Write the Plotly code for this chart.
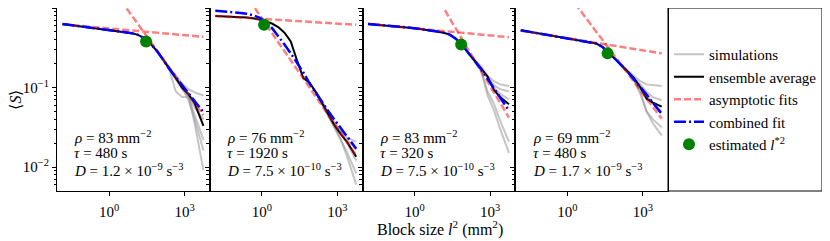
import plotly.graph_objects as go

# ---------------- data ----------------
# block sizes l^2 (mm^2)
L2 = [0.0141, 0.0251, 0.0447, 0.0794, 0.141, 0.251, 0.447, 0.794, 1.41, 2.51, 4.47, 7.94,
      14.1, 25.1, 44.7, 79.4, 141, 251, 447, 794, 1413, 2512, 5623]
# block sizes where the individual simulations separate
L2_TAIL = [141, 251, 447, 794, 1413, 2512, 5623]

# log10 <S> of the ensemble average, one list per panel
ENS_1 = [-0.200, -0.211, -0.222, -0.233, -0.244, -0.255, -0.265, -0.276, -0.284, -0.292, -0.302, -0.316,
         -0.338, -0.380, -0.45, -0.54, -0.65, -0.76, -0.88, -1.00, -1.08, -1.20, -1.48]
ENS_2 = [-0.100, -0.103, -0.106, -0.110, -0.114, -0.120, -0.130, -0.145, -0.165, -0.195, -0.24, -0.31,
         -0.42, -0.66, -0.88, -0.94, -1.06, -1.20, -1.34, -1.48, -1.59, -1.69, -1.87]
ENS_3 = [-0.200, -0.206, -0.212, -0.219, -0.226, -0.233, -0.241, -0.250, -0.262, -0.272, -0.283, -0.296,
         -0.312, -0.335, -0.39, -0.47, -0.57, -0.67, -0.77, -0.86, -1.03, -1.12, -1.21]
ENS_4 = [-0.280, -0.294, -0.308, -0.322, -0.336, -0.350, -0.364, -0.378, -0.392, -0.404, -0.415, -0.428,
         -0.447, -0.49, -0.56, -0.64, -0.72, -0.80, -0.88, -1.00, -1.14, -1.19, -1.24]

# log10 <S> of the combined fit
FIT_1 = [-0.200, -0.211, -0.222, -0.233, -0.244, -0.255, -0.265, -0.276, -0.284, -0.292, -0.302, -0.316,
         -0.338, -0.380, -0.45, -0.54, -0.65, -0.77, -0.87, -0.97, -1.07, -1.17, -1.31]
FIT_2 = [-0.035, -0.040, -0.046, -0.053, -0.062, -0.073, -0.090, -0.12, -0.17, -0.25, -0.35, -0.46,
         -0.57, -0.69, -0.81, -0.95, -1.07, -1.18, -1.30, -1.41, -1.51, -1.62, -1.77]
FIT_3 = [-0.200, -0.206, -0.212, -0.219, -0.226, -0.233, -0.241, -0.250, -0.262, -0.272, -0.283, -0.296,
         -0.312, -0.335, -0.39, -0.47, -0.57, -0.67, -0.77, -0.89, -1.01, -1.13, -1.29]
FIT_4 = [-0.280, -0.294, -0.308, -0.322, -0.336, -0.350, -0.364, -0.378, -0.392, -0.404, -0.415, -0.428,
         -0.447, -0.49, -0.56, -0.64, -0.72, -0.80, -0.90, -0.99, -1.09, -1.19, -1.33]

# log10 <S> of the five simulations over L2_TAIL
SIMS_1 = [[-0.65, -0.75, -0.85, -0.95, -1.02, -1.06, -1.10],
          [-0.65, -0.78, -1.05, -1.12, -1.12, -1.25, -1.40],
          [-0.66, -0.77, -0.90, -1.02, -1.12, -1.35, -1.66],
          [-0.65, -0.76, -0.88, -1.00, -1.15, -1.40, -1.79],
          [-0.64, -0.75, -0.87, -0.98, -1.10, -1.45, -2.04]]
SIMS_2 = [[-1.06, -1.19, -1.32, -1.44, -1.55, -1.63, -1.68],
          [-1.05, -1.21, -1.35, -1.50, -1.60, -1.66, -1.78],
          [-1.07, -1.20, -1.36, -1.52, -1.66, -1.82, -2.08],
          [-1.06, -1.22, -1.36, -1.50, -1.66, -1.88, -2.22],
          [-1.05, -1.18, -1.33, -1.47, -1.57, -1.70, -1.92]]
SIMS_3 = [[-0.57, -0.66, -0.74, -0.85, -0.92, -0.96, -0.98],
          [-0.57, -0.67, -0.76, -0.87, -0.97, -1.02, -1.05],
          [-0.58, -0.68, -0.80, -1.05, -1.20, -1.42, -1.68],
          [-0.56, -0.67, -0.78, -1.10, -1.28, -1.52, -1.82],
          [-0.57, -0.66, -0.75, -0.88, -1.00, -1.08, -1.15]]
SIMS_4 = [[-0.72, -0.79, -0.85, -0.92, -0.96, -0.97, -0.98],
          [-0.72, -0.80, -0.87, -0.96, -1.06, -1.12, -1.16],
          [-0.73, -0.81, -0.91, -1.08, -1.30, -1.40, -1.50],
          [-0.72, -0.80, -0.90, -1.05, -1.30, -1.45, -1.60],
          [-0.71, -0.80, -0.88, -0.98, -1.08, -1.20, -1.30]]

# asymptotic power-law fits: log10 S = intercept + slope * log10 l^2
SMALL_FIT = [(-0.257, -0.028), (-0.136, -0.020), (-0.255, -0.030), (-0.379, -0.051)]
LARGE_FIT = [(0.302, -0.44), (-0.129, -0.46), (0.610, -0.53), (0.185, -0.42)]

# estimated l*^2 (mm^2) and <S> there
LSTAR2 = [29.5, 1.23, 70.8, 39.8]
S_STAR = [0.380, 0.617, 0.347, 0.269]

# panel parameters
RHO = [83, 76, 83, 69]
TAU = [480, 1920, 320, 480]
D_MANT = ["1.2", "7.5", "7.5", "1.7"]
D_EXP = [-9, -10, -10, -9]

X_TICKS = [1, 1000]
X_TICKTEXT = ["10<sup>0</sup>", "10<sup>3</sup>"]
Y_TICKS = [1, 0.1, 0.01]
Y_TICKTEXT = ["10<sup>0</sup>", "10<sup>−1</sup>", "10<sup>−2</sup>"]

ENS = [ENS_1, ENS_2, ENS_3, ENS_4]
FITS = [FIT_1, FIT_2, FIT_3, FIT_4]
SIMS = [SIMS_1, SIMS_2, SIMS_3, SIMS_4]

# ---------------- figure ----------------
FONT = "Liberation Serif, Times New Roman, serif"
# the page body adds an 8 px margin, so the figure is laid out 8 px smaller
W, H = 822, 233
ML, MR, MT, MB = 49, 8, 0, 50
PAPER_W = W - ML - MR
PAPER_H = H - MT - MB
PANELS_FRAC = (660 - ML) / PAPER_W
PW = PANELS_FRAC / 4

SIM_COLOR = "rgba(150,150,150,0.55)"
ASYM_COLOR = "rgba(255,0,0,0.5)"

fig = go.Figure()


def tolin(vals):
    return [10 ** v for v in vals]


minor_y = [k * 10 ** n for n in (-3, -2, -1) for k in range(2, 10)]

for i in range(4):
    xa = "x" if i == 0 else f"x{i+1}"
    ya = "y" if i == 0 else f"y{i+1}"
    first = i == 0
    for j, s in enumerate(SIMS[i]):
        fig.add_trace(go.Scatter(x=L2_TAIL, y=tolin(s), mode="lines", xaxis=xa, yaxis=ya,
                                 line=dict(color=SIM_COLOR, width=2),
                                 name="simulations", legendgroup="a", legendrank=1,
                                 showlegend=first and j == 0))
    fig.add_trace(go.Scatter(x=L2, y=tolin(ENS[i]), mode="lines", xaxis=xa, yaxis=ya,
                             line=dict(color="black", width=2),
                             name="ensemble average", legendgroup="b", legendrank=2,
                             showlegend=first))
    xs = [L2[0], L2[-1]]
    for k, (a, b) in enumerate([SMALL_FIT[i], LARGE_FIT[i]]):
        fig.add_trace(go.Scatter(x=xs, y=[10 ** a * x ** b for x in xs], mode="lines",
                                 xaxis=xa, yaxis=ya,
                                 line=dict(color=ASYM_COLOR, width=2.5, dash="7px,3px"),
                                 name="asymptotic fits", legendgroup="c", legendrank=3,
                                 showlegend=first and k == 0))
    fig.add_trace(go.Scatter(x=L2, y=tolin(FITS[i]), mode="lines", xaxis=xa, yaxis=ya,
                             line=dict(color="blue", width=2.5, dash="12px,3px,2px,3px"),
                             name="combined fit", legendgroup="d", legendrank=4,
                             showlegend=first))
    fig.add_trace(go.Scatter(x=[LSTAR2[i]], y=[S_STAR[i]], mode="markers", xaxis=xa, yaxis=ya,
                             marker=dict(color="green", size=12),
                             name="estimated <i>l</i><sup>*2</sup>", legendgroup="e", legendrank=5,
                             showlegend=first))

    axis_common = dict(showline=True, mirror=True, linecolor="black", linewidth=1,
                       ticks="outside", tickcolor="black", showgrid=False, zeroline=False,
                       automargin=False,
                       tickfont=dict(family=FONT, size=15, color="black"))
    xkey = "xaxis" if i == 0 else f"xaxis{i+1}"
    ykey = "yaxis" if i == 0 else f"yaxis{i+1}"
    fig.layout[xkey] = dict(type="log", range=[-2.07, 4.0], domain=[i * PW, (i + 1) * PW],
                            anchor=ya, tickvals=X_TICKS, ticktext=X_TICKTEXT, ticklen=4,
                            ticklabelstandoff=3,
                            **axis_common)
    fig.layout[ykey] = dict(type="log", range=[-2.3, 0], domain=[0, 1], anchor=xa,
                            tickvals=Y_TICKS, ticktext=Y_TICKTEXT, ticklen=4,
                            showticklabels=first,
                            minor=dict(tickvals=minor_y, ticks="outside", ticklen=2.5,
                                       tickcolor="black"),
                            **({} if first else dict(matches="y")),
                            **axis_common)

    xref = "x domain" if i == 0 else f"x{i+1} domain"
    yref = "y domain" if i == 0 else f"y{i+1} domain"
    lines = [f"<i>ρ</i> = {RHO[i]} mm<sup>−2</sup>",
             f"<i>τ</i> = {TAU[i]} s",
             f"<i>D</i> = {D_MANT[i]} × 10<sup>−{abs(D_EXP[i])}</sup> s<sup>−3</sup>"]
    for t, yy in zip(lines, [0.293, 0.207, 0.114]):
        fig.add_annotation(text=t, xref=xref, yref=yref, x=0.1, y=yy, xanchor="left",
                           yanchor="middle", showarrow=False,
                           font=dict(family=FONT, size=15, color="black"))

# legend frame
fig.add_shape(type="rect", xref="paper", yref="paper", x0=PANELS_FRAC, x1=1, y0=0, y1=1,
              line=dict(color="black", width=1))

# axis labels
fig.add_annotation(text="⟨<i>S</i>⟩", xref="paper", yref="paper", x=(7 - ML) / PAPER_W, y=0.5,
                   textangle=-90, showarrow=False, xanchor="center", yanchor="middle",
                   font=dict(family=FONT, size=16, color="black"))
fig.add_annotation(text="Block size <i>l</i><sup>2</sup> (mm<sup>2</sup>)", xref="paper",
                   yref="paper", x=(432 - ML) / PAPER_W, y=-(228 - 191) / PAPER_H,
                   showarrow=False, xanchor="center", yanchor="middle",
                   font=dict(family=FONT, size=16, color="black"))

fig.update_layout(
    width=W, height=H, margin=dict(l=ML, r=MR, t=MT, b=MB, autoexpand=False),
    paper_bgcolor="white", plot_bgcolor="white",
    showlegend=True,
    legend=dict(x=(661 - ML) / PAPER_W, y=(PAPER_H - 30) / PAPER_H, xanchor="left",
                yanchor="top", bgcolor="rgba(0,0,0,0)", borderwidth=0,
                font=dict(family=FONT, size=15, color="black"), tracegroupgap=0,
                itemwidth=30),
)

fig.write_html("out.html")
